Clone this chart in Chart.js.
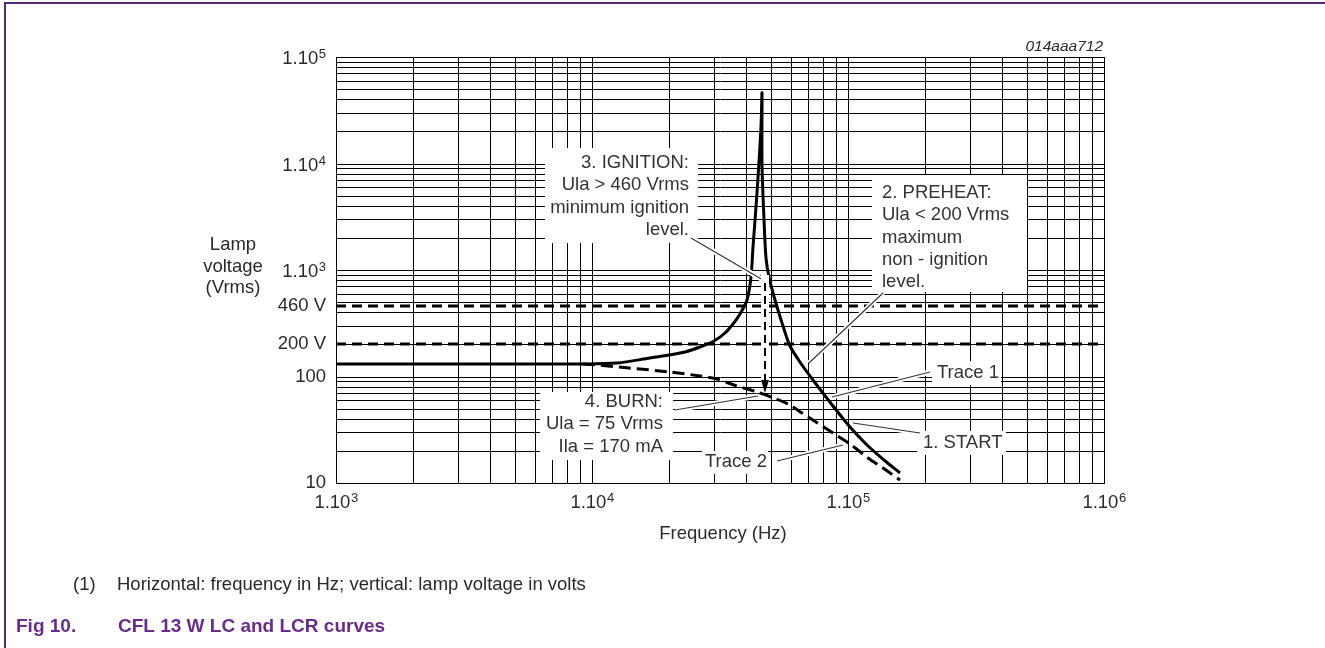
<!DOCTYPE html>
<html lang="en">
  <head>
    <meta charset="UTF-8" />
    <title>CFL 13 W LC and LCR curves</title>
    <script src="https://cdn.jsdelivr.net/npm/chart.js@4.4.1/dist/chart.umd.min.js"></script>
    <style>
      html, body { margin: 0; padding: 0; background: #fff; }
      #wrap { width: 1325px; height: 648px; position: relative; }
    </style>
  </head>
  <body>
    <div id="wrap"><canvas id="lampChart" width="1325" height="648"></canvas></div>
    <script>
      // frequency (Hz) / lamp voltage (Vrms)
      const trace1Freq = [1000, 6000, 9000, 12500, 16900, 20000, 23000, 26400, 30000, 33000, 35600, 38000, 40200, 41700, 42700, 44000, 45600, 46000,
                          46200, 46900, 48000, 49000, 52000, 55500, 59300, 66100, 75000, 87400, 101800, 118700, 138200, 159600];
      const trace1Volt = [131, 131, 132, 135, 148, 158, 170, 188, 215, 255, 310, 390, 522, 860, 1656, 5260, 22200, 45700,
                          10000, 3000, 1300, 860, 522, 300, 195, 128, 85, 52.9, 33.6, 22.7, 16.4, 12.4];

      const trace2Freq = [9200, 10500, 14000, 20200, 26400, 30800, 36000, 44200, 50000, 59300, 66000, 75000, 87300, 102000, 120000, 137000, 160000];
      const trace2Volt = [132, 128, 121, 110, 102, 94, 83, 72, 64.5, 54.5, 45.5, 37, 29.5, 23, 17.2, 13.8, 10.7];

      // ignition level / non-ignition level
      const levelFreq = [1000, 1000000];
      const ignitionLevel = 460;
      const preheatLevel = 200;

      // ignition -> burn arrow
      const arrowFreq = 47400;
      const arrowVolt = [755, 70];

      // grid: 1..9 in every decade
      const mantissa = [1, 2, 3, 4, 5, 6, 7, 8, 9];
      const xDecades = [1e3, 1e4, 1e5];
      const yDecades = [10, 100, 1e3, 1e4];

      // decade labels are "1.10" + exponent
      const xLabelValues = [1e3, 1e4, 1e5, 1e6];
      const xLabelExp = ["3", "4", "5", "6"];
      const yDecadeValues = [1e5, 1e4, 1e3];
      const yDecadeExp = ["5", "4", "3"];
      const yLabelValues = [460, 200, 100, 10];
      const yLabelTexts = ["460 V", "200 V", "100", "10"];

      const xGrid = [];
      xDecades.forEach((d) => mantissa.forEach((m) => xGrid.push(m * d)));
      xGrid.push(1e6);
      const yGrid = [];
      yDecades.forEach((d) => mantissa.forEach((m) => yGrid.push(m * d)));
      yGrid.push(1e5);
      yGrid.push(460);
      yGrid.sort((a, b) => a - b);

      const FONT = "'Liberation Sans', Arial, Helvetica, sans-serif";
      const txtColor = "#2a2a2a";

      function pts(xs, ys) {
        return xs.map((x, i) => ({ x: x, y: ys[i] }));
      }

      // annotation boxes / text / leader lines (canvas pixels)
      const boxes = [
        [545, 148, 153, 95],
        [872, 175, 155, 117],
        [932, 361, 69, 24],
        [917, 431, 89, 24],
        [702, 451, 66, 23],
        [540, 392, 133, 68],
      ];
      const notes = [
        { x: 689, y: 163, align: "right", lines: ["3. IGNITION:", "Ula > 460 Vrms", "minimum ignition", "level."] },
        { x: 882, y: 193, align: "left", lines: ["2. PREHEAT:", "Ula < 200 Vrms", "maximum", "non - ignition", "level."] },
        { x: 937, y: 373, align: "left", lines: ["Trace 1"] },
        { x: 923, y: 443, align: "left", lines: ["1. START"] },
        { x: 705, y: 462, align: "left", lines: ["Trace 2"] },
        { x: 663, y: 402, align: "right", lines: ["4. BURN:", "Ula = 75 Vrms", "Ila = 170 mA"] },
      ];
      const leaders = [
        [691, 238, 763, 280],
        [883, 293, 809, 363],
        [930, 372, 832, 397],
        [920, 433, 853, 423],
        [777, 461, 843, 445],
        [675, 410, 758, 396],
      ];

      const backPlugin = {
        id: "back",
        beforeDatasetsDraw(chart) {
          const c = chart.ctx;
          c.save();
          c.fillStyle = "#fff";
          boxes.forEach((b) => c.fillRect(b[0], b[1], b[2], b[3]));
          c.restore();
        },
      };

      const notePlugin = {
        id: "notes",
        afterDatasetsDraw(chart) {
          const c = chart.ctx;
          const xs = chart.scales.x;
          const ys = chart.scales.y;
          const area = chart.chartArea;
          c.save();

          // leader lines with white halo
          leaders.forEach((l) => {
            c.beginPath();
            c.moveTo(l[0], l[1]);
            c.lineTo(l[2], l[3]);
            c.strokeStyle = "#fff";
            c.lineWidth = 5;
            c.stroke();
          });
          leaders.forEach((l) => {
            c.beginPath();
            c.moveTo(l[0], l[1]);
            c.lineTo(l[2], l[3]);
            c.strokeStyle = "#333";
            c.lineWidth = 1.1;
            c.stroke();
          });

          // arrow ignition -> burn
          const ax = xs.getPixelForValue(arrowFreq);
          const ay0 = ys.getPixelForValue(arrowVolt[0]);
          const ay1 = ys.getPixelForValue(arrowVolt[1]);
          c.fillStyle = "#fff";
          c.fillRect(ax - 4, ay0 - 8, 8, ay1 - ay0);
          c.beginPath();
          c.setLineDash([8, 5]);
          c.moveTo(ax, ay0);
          c.lineTo(ax, ay1 - 10);
          c.strokeStyle = "#000";
          c.lineWidth = 2;
          c.stroke();
          c.setLineDash([]);
          c.beginPath();
          c.moveTo(ax - 4, ay1 - 13);
          c.lineTo(ax + 4, ay1 - 13);
          c.lineTo(ax, ay1);
          c.closePath();
          c.fillStyle = "#000";
          c.fill();

          // annotation text
          c.font = "18.5px " + FONT;
          c.fillStyle = "#333";
          c.textBaseline = "middle";
          notes.forEach((n) => {
            c.textAlign = n.align;
            n.lines.forEach((t, i) => c.fillText(t, n.x, n.y + i * 22.3));
          });

          // decade tick labels 1.10^n
          c.fillStyle = txtColor;
          c.textBaseline = "alphabetic";
          c.textAlign = "left";
          const baseFont = "18.5px " + FONT;
          const expFont = "13px " + FONT;
          c.font = baseFont;
          const wBase = c.measureText("1.10").width;
          xLabelValues.forEach((v, i) => {
            c.font = expFont;
            const wExp = c.measureText(xLabelExp[i]).width;
            const left = xs.getPixelForValue(v) - (wBase + wExp) / 2;
            c.font = baseFont;
            c.fillText("1.10", left, 508);
            c.font = expFont;
            c.fillText(xLabelExp[i], left + wBase + 0.5, 502);
          });
          yDecadeValues.forEach((v, i) => {
            const yc = ys.getPixelForValue(v);
            const right = area.left - 10;
            c.font = expFont;
            const wExp = c.measureText(yDecadeExp[i]).width;
            c.textAlign = "right";
            c.fillText(yDecadeExp[i], right, yc + 0.5);
            c.font = baseFont;
            c.fillText("1.10", right - wExp - 0.5, yc + 6.5);
          });

          // y axis title
          c.font = "18.5px " + FONT;
          c.textBaseline = "middle";
          c.textAlign = "center";
          ["Lamp", "voltage", "(Vrms)"].forEach((t, i) => c.fillText(t, 233, 245 + i * 21.5));

          // x axis title
          c.fillText("Frequency (Hz)", 723, 534);

          // figure id
          c.font = "italic 15.5px " + FONT;
          c.textAlign = "right";
          c.fillText("014aaa712", 1103, 47);

          // footnote and caption
          c.font = "18.5px " + FONT;
          c.textAlign = "left";
          c.fillText("(1)", 73, 585);
          c.fillText("Horizontal: frequency in Hz; vertical: lamp voltage in volts", 117, 585);
          c.font = "bold 19px " + FONT;
          c.fillStyle = "#692b8c";
          c.fillText("Fig 10.", 16, 627);
          c.fillText("CFL 13 W LC and LCR curves", 118, 627);

          // page frame
          c.strokeStyle = "#54297f";
          c.lineWidth = 2;
          c.beginPath();
          c.moveTo(5, 648);
          c.lineTo(5, 3);
          c.lineTo(1325, 3);
          c.stroke();
          c.restore();
        },
      };

      const ctx = document.querySelector("#lampChart").getContext("2d");
      const myChart = new Chart(ctx, {
        type: "scatter",
        data: {
          datasets: [
            {
              label: "Trace 1",
              data: pts(trace1Freq, trace1Volt),
              showLine: true,
              borderColor: "#000",
              borderWidth: 3,
              pointRadius: 0,
              tension: 0.3,
            },
            {
              label: "Trace 2",
              data: pts(trace2Freq, trace2Volt),
              showLine: true,
              borderColor: "#000",
              borderWidth: 3,
              borderDash: [12, 6],
              pointRadius: 0,
              tension: 0.3,
            },
            {
              label: "460 V",
              data: pts(levelFreq, [ignitionLevel, ignitionLevel]),
              showLine: true,
              borderColor: "#000",
              borderWidth: 3,
              borderDash: [10, 6],
              pointRadius: 0,
            },
            {
              label: "200 V",
              data: pts(levelFreq, [preheatLevel, preheatLevel]),
              showLine: true,
              borderColor: "#000",
              borderWidth: 3,
              borderDash: [10, 6],
              pointRadius: 0,
            },
          ],
        },
        options: {
          responsive: false,
          animation: false,
          layout: { padding: { left: 246, right: 221, top: 57, bottom: 125 } },
          plugins: { legend: { display: false }, tooltip: { enabled: false } },
          scales: {
            x: {
              type: "logarithmic",
              min: 1000,
              max: 1000000,
              alignToPixels: true,
              afterBuildTicks: (s) => { s.ticks = xGrid.map((v) => ({ value: v })); },
              afterFit: (s) => { s.height = 40; },
              grid: { color: "#000", lineWidth: 1, drawTicks: false },
              border: { color: "#000", width: 1 },
              ticks: { autoSkip: false, maxRotation: 0, padding: 9, callback: () => "" },
            },
            y: {
              type: "logarithmic",
              min: 10,
              max: 100000,
              alignToPixels: true,
              afterBuildTicks: (s) => { s.ticks = yGrid.map((v) => ({ value: v })); },
              afterFit: (s) => { s.width = 90; },
              grid: {
                color: (c) => (c.tick && c.tick.value === 460 ? "rgba(0,0,0,0)" : "#000"),
                lineWidth: 1,
                drawTicks: false,
              },
              border: { color: "#000", width: 1 },
              ticks: {
                autoSkip: false,
                padding: 10,
                color: txtColor,
                font: { family: FONT, size: 18.5 },
                callback: (v) => {
                  const i = yLabelValues.indexOf(v);
                  return i < 0 ? "" : yLabelTexts[i];
                },
              },
            },
          },
        },
        plugins: [backPlugin, notePlugin],
      });
    </script>
  </body>
</html>
